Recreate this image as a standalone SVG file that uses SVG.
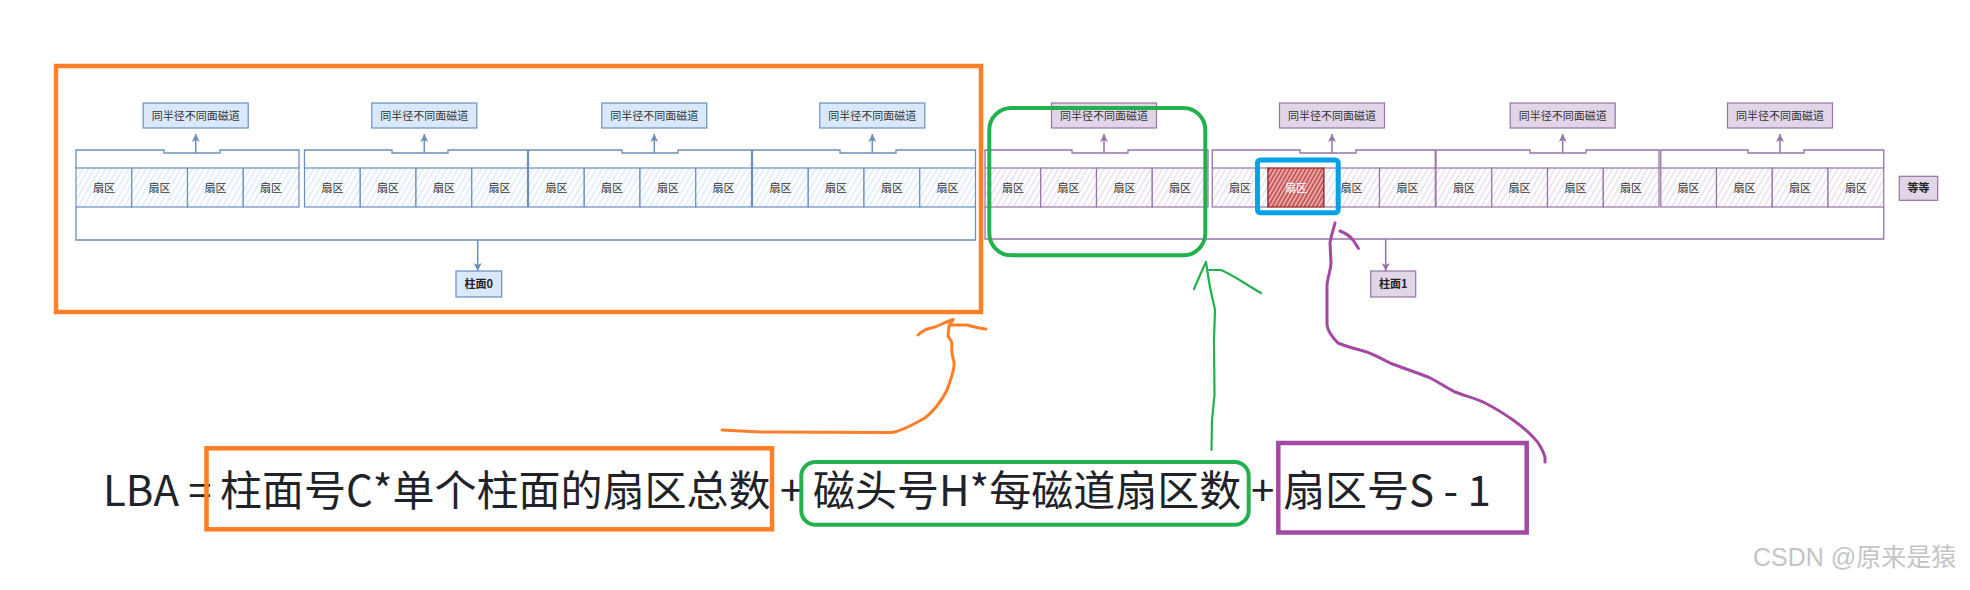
<svg xmlns="http://www.w3.org/2000/svg" width="1970" height="590" viewBox="0 0 1970 590">
<defs>
<pattern id="hatchB" patternUnits="userSpaceOnUse" width="5" height="5" patternTransform="rotate(30)"><rect width="5" height="5" fill="#ffffff"/><line x1="1" y1="0" x2="1" y2="5" stroke="#dae8fc" stroke-width="1.4"/></pattern>
<pattern id="hatchP" patternUnits="userSpaceOnUse" width="5" height="5" patternTransform="rotate(30)"><rect width="5" height="5" fill="#ffffff"/><line x1="1" y1="0" x2="1" y2="5" stroke="#e6dcec" stroke-width="1.4"/></pattern>
<pattern id="hatchR" patternUnits="userSpaceOnUse" width="3.5" height="3.5" patternTransform="rotate(30)"><rect width="3.5" height="3.5" fill="#e9a9a9"/><line x1="1" y1="0" x2="1" y2="3.5" stroke="#b53a3a" stroke-width="1.3"/></pattern>
<marker id="ab" viewBox="0 0 8 8" refX="8" refY="4" markerWidth="8" markerHeight="8" markerUnits="userSpaceOnUse" orient="auto"><path d="M0,0 L8,4 L0,8 L2,4 z" fill="#6c8ebf"/></marker>
<marker id="ap" viewBox="0 0 8 8" refX="8" refY="4" markerWidth="8" markerHeight="8" markerUnits="userSpaceOnUse" orient="auto"><path d="M0,0 L8,4 L0,8 L2,4 z" fill="#9673a6"/></marker>
</defs>
<style>
.sb{fill:url(#hatchB);stroke:#6c8ebf;stroke-width:1.2}
.sp{fill:url(#hatchP);stroke:#9673a6;stroke-width:1.2}
.brb{fill:none;stroke:#6c8ebf;stroke-width:1.3}
.brp{fill:none;stroke:#9673a6;stroke-width:1.3}
.lb{fill:#dae8fc;stroke:#6c8ebf;stroke-width:1.2}
.lp{fill:#e1d5e7;stroke:#9673a6;stroke-width:1.2}
.t{font-family:"Noto Sans CJK SC","Noto Sans",sans-serif;font-size:11px;fill:#333333;text-anchor:middle}
.tb{font-family:"Noto Sans CJK SC","Noto Sans",sans-serif;font-size:11px;font-weight:bold;fill:#222222;text-anchor:middle}
.cb{fill:none;stroke:#6c8ebf;stroke-width:1.5}
.cp{fill:none;stroke:#9673a6;stroke-width:1.5}
.f{font-family:"Noto Sans CJK SC","Noto Sans",sans-serif;font-size:42px;fill:#1f2329}
.or{fill:none;stroke:#ff7f27;stroke-width:4.5}
.gr{fill:none;stroke:#22b14c;stroke-width:4}
.pr{fill:none;stroke:#a349a4;stroke-width:4.5}
.hor{fill:none;stroke:#ff7f27;stroke-width:3;stroke-linecap:round;stroke-linejoin:round}
.hgr{fill:none;stroke:#22b14c;stroke-width:2.2;stroke-linecap:round;stroke-linejoin:round}
.hpr{fill:none;stroke:#a349a4;stroke-width:3;stroke-linecap:round;stroke-linejoin:round}
</style>
<rect width="1970" height="590" fill="#ffffff"/>

<!-- cylinder 0 (blue) -->
<g id="cyl0-bracket"><path class="brb" d="M76,207 V240 H975.5 V207"/></g>
<g id="track0-0">
<path class="brb" d="M76,168 V150 H164 V153 H220 V150 H299 V168"/>
<rect class="sb" x="76" y="168" width="55.75" height="39"/><rect class="sb" x="131.75" y="168" width="55.75" height="39"/><rect class="sb" x="187.5" y="168" width="55.75" height="39"/><rect class="sb" x="243.25" y="168" width="55.75" height="39"/>
<text class="t" x="103.9" y="191.5">扇区</text><text class="t" x="159.6" y="191.5">扇区</text><text class="t" x="215.4" y="191.5">扇区</text><text class="t" x="271.1" y="191.5">扇区</text>
</g>
<g id="track0-1">
<path class="brb" d="M304.5,168 V150 H392 V153 H448 V150 H527.5 V168"/>
<rect class="sb" x="304.5" y="168" width="55.75" height="39"/><rect class="sb" x="360.25" y="168" width="55.75" height="39"/><rect class="sb" x="416" y="168" width="55.75" height="39"/><rect class="sb" x="471.75" y="168" width="55.75" height="39"/>
<text class="t" x="332.4" y="191.5">扇区</text><text class="t" x="388.1" y="191.5">扇区</text><text class="t" x="443.9" y="191.5">扇区</text><text class="t" x="499.6" y="191.5">扇区</text>
</g>
<g id="track0-2">
<path class="brb" d="M528.5,168 V150 H622 V153 H678 V150 H751.5 V168"/>
<rect class="sb" x="528.5" y="168" width="55.75" height="39"/><rect class="sb" x="584.25" y="168" width="55.75" height="39"/><rect class="sb" x="640" y="168" width="55.75" height="39"/><rect class="sb" x="695.75" y="168" width="55.75" height="39"/>
<text class="t" x="556.4" y="191.5">扇区</text><text class="t" x="612.1" y="191.5">扇区</text><text class="t" x="667.9" y="191.5">扇区</text><text class="t" x="723.6" y="191.5">扇区</text>
</g>
<g id="track0-3">
<path class="brb" d="M752.5,168 V150 H840 V153 H896 V150 H975.5 V168"/>
<rect class="sb" x="752.5" y="168" width="55.75" height="39"/><rect class="sb" x="808.25" y="168" width="55.75" height="39"/><rect class="sb" x="864" y="168" width="55.75" height="39"/><rect class="sb" x="919.75" y="168" width="55.75" height="39"/>
<text class="t" x="780.4" y="191.5">扇区</text><text class="t" x="836.1" y="191.5">扇区</text><text class="t" x="891.9" y="191.5">扇区</text><text class="t" x="947.6" y="191.5">扇区</text>
</g>
<g id="label0-0"><rect class="lb" x="143.2" y="103" width="105" height="25"/><text class="t" x="195.7" y="119.5">同半径不同面磁道</text></g>
<g id="label0-1"><rect class="lb" x="371.8" y="103" width="105" height="25"/><text class="t" x="424.3" y="119.5">同半径不同面磁道</text></g>
<g id="label0-2"><rect class="lb" x="601.8" y="103" width="105" height="25"/><text class="t" x="654.3" y="119.5">同半径不同面磁道</text></g>
<g id="label0-3"><rect class="lb" x="819.8" y="103" width="105" height="25"/><text class="t" x="872.3" y="119.5">同半径不同面磁道</text></g>
<g id="cyl0"><rect class="lb" x="456" y="271" width="45.7" height="26"/><text class="tb" x="478.8" y="288">柱面0</text></g>

<!-- cylinder 1 (purple) -->
<g id="cyl1-bracket"><path class="brp" d="M985,207 V239 H1883.75 V207"/></g>
<g id="track1-0">
<path class="brp" d="M985,168 V150 H1072 V153 H1128 V150 H1208 V168"/>
<rect class="sp" x="985" y="168" width="55.75" height="39"/><rect class="sp" x="1040.75" y="168" width="55.75" height="39"/><rect class="sp" x="1096.5" y="168" width="55.75" height="39"/><rect class="sp" x="1152.25" y="168" width="55.75" height="39"/>
<text class="t" x="1012.9" y="191.5">扇区</text><text class="t" x="1068.6" y="191.5">扇区</text><text class="t" x="1124.4" y="191.5">扇区</text><text class="t" x="1180.1" y="191.5">扇区</text>
</g>
<g id="track1-1">
<path class="brp" d="M1212.25,168 V150 H1300 V153 H1356 V150 H1435.25 V168"/>
<rect class="sp" x="1212.25" y="168" width="55.75" height="39"/><rect class="sp" x="1323.75" y="168" width="55.75" height="39"/><rect class="sp" x="1379.5" y="168" width="55.75" height="39"/>
<text class="t" x="1240.1" y="191.5">扇区</text><text class="t" x="1351.6" y="191.5">扇区</text><text class="t" x="1407.4" y="191.5">扇区</text>
</g>
<g id="sector-target">
<rect x="1268" y="168" width="55.75" height="39" fill="url(#hatchR)" stroke="#9c2b2b" stroke-width="1.3"/>
<text class="t" x="1295.9" y="191.5" style="fill:#ffffff">扇区</text>
</g>
<g id="track1-2">
<path class="brp" d="M1436,168 V150 H1530 V153 H1586 V150 H1659 V168"/>
<rect class="sp" x="1436" y="168" width="55.75" height="39"/><rect class="sp" x="1491.75" y="168" width="55.75" height="39"/><rect class="sp" x="1547.5" y="168" width="55.75" height="39"/><rect class="sp" x="1603.25" y="168" width="55.75" height="39"/>
<text class="t" x="1463.9" y="191.5">扇区</text><text class="t" x="1519.6" y="191.5">扇区</text><text class="t" x="1575.4" y="191.5">扇区</text><text class="t" x="1631.1" y="191.5">扇区</text>
</g>
<g id="track1-3">
<path class="brp" d="M1660.75,168 V150 H1748 V153 H1804 V150 H1883.75 V168"/>
<rect class="sp" x="1660.75" y="168" width="55.75" height="39"/><rect class="sp" x="1716.5" y="168" width="55.75" height="39"/><rect class="sp" x="1772.25" y="168" width="55.75" height="39"/><rect class="sp" x="1828" y="168" width="55.75" height="39"/>
<text class="t" x="1688.6" y="191.5">扇区</text><text class="t" x="1744.4" y="191.5">扇区</text><text class="t" x="1800.1" y="191.5">扇区</text><text class="t" x="1855.9" y="191.5">扇区</text>
</g>
<g id="label1-0"><rect class="lp" x="1051.5" y="103" width="105" height="25"/><text class="t" x="1104" y="119.5">同半径不同面磁道</text></g>
<g id="label1-1"><rect class="lp" x="1279.5" y="103" width="105" height="25"/><text class="t" x="1332" y="119.5">同半径不同面磁道</text></g>
<g id="label1-2"><rect class="lp" x="1510.2" y="103" width="105" height="25"/><text class="t" x="1562.7" y="119.5">同半径不同面磁道</text></g>
<g id="label1-3"><rect class="lp" x="1727.5" y="103" width="105" height="25"/><text class="t" x="1780" y="119.5">同半径不同面磁道</text></g>
<g id="cyl1"><rect class="lp" x="1370.7" y="271" width="45" height="26"/><text class="tb" x="1393.2" y="288">柱面1</text></g>
<g id="etc"><rect class="lp" x="1899.3" y="176.3" width="38.4" height="24"/><text class="tb" x="1918.5" y="192.3">等等</text></g>

<!-- connectors -->
<g id="connectors">
<path class="cb" d="M195.7,153 V134" marker-end="url(#ab)"/>
<path class="cb" d="M424.3,153 V134" marker-end="url(#ab)"/>
<path class="cb" d="M654.3,153 V134" marker-end="url(#ab)"/>
<path class="cb" d="M872.3,153 V134" marker-end="url(#ab)"/>
<path class="cb" d="M477.7,240 V271" marker-end="url(#ab)"/>
<path class="cp" d="M1104,153 V134" marker-end="url(#ap)"/>
<path class="cp" d="M1332,153 V134" marker-end="url(#ap)"/>
<path class="cp" d="M1562.7,153 V134" marker-end="url(#ap)"/>
<path class="cp" d="M1780,153 V134" marker-end="url(#ap)"/>
<path class="cp" d="M1385.7,239 V271" marker-end="url(#ap)"/>
<!-- hand-drawn annotation arrows -->
<path class="hor" d="M722,430 L760,432 L892,432.5 C905,430 915,423 925,418 C935,410 942,400 947,390 C951,378 955,370 954,362 C952,355 951,350 952,345 C952,340 949,338 948,336 L949,326 L953,319.5"/>
<path class="hor" d="M918,335 C922,331 926,329 931,328 C936,327 940,325 944,323 L953,319.5 M950,325 L967,325 C975,327 980,329 986,329"/>
<path class="hgr" d="M1211.5,450 L1212,420 L1214.5,395 L1214,340 L1215,310 C1213,300 1210,290 1208,275 L1206,262"/>
<path class="hgr" d="M1194,289 C1198,280 1202,270 1206,262 M1209,270 L1221,270 C1235,276 1248,286 1261,293"/>
<path class="hpr" d="M1545,462 L1545,457 C1542,448 1538,442 1534,438 C1527,430 1520,425 1513,420 C1503,413 1495,408 1485,403 C1475,398 1465,396 1455,392 C1445,387 1437,381 1428,377 C1415,372 1400,367 1390,363 C1378,357 1370,352 1360,350 C1352,348 1345,346 1338,343 C1333,338 1328,332 1327,325 L1327,285 C1328,275 1331,270 1331,262 L1330,243 C1331,235 1334,228 1335,223"/>
<path class="hpr" d="M1340,231 C1345,233 1350,236 1353,240 C1355,243 1357,246 1358.5,248.5"/>
</g>

<!-- highlight marks -->
<g id="mark-cylinder"><rect class="or" x="56" y="66" width="925" height="246"/></g>
<g id="mark-track"><rect class="gr" x="989.3" y="108" width="216" height="147.3" rx="22"/></g>
<g id="mark-sector"><rect x="1257.5" y="160" width="80.7" height="52.8" rx="3" fill="none" stroke="#00a2e8" stroke-width="5"/></g>

<!-- formula -->
<g id="formula">
<text class="f" x="103" y="506">LBA =</text>
<text class="f" x="220" y="506">柱面号C*单个柱面的扇区总数</text>
<text class="f" x="780" y="506">+</text>
<text class="f" x="813" y="506">磁头号H*每磁道扇区数</text>
<text class="f" x="1251" y="506">+</text>
<text class="f" x="1283" y="506">扇区号S - 1</text>
<rect class="or" x="206.5" y="448.3" width="565.5" height="81"/>
<rect class="gr" x="801.3" y="462" width="447.4" height="62.7" rx="14"/>
<rect class="pr" x="1278.3" y="443" width="248.4" height="89.5"/>
</g>

<g id="watermark"><text x="1753" y="566" style="font-family:'Liberation Sans','Noto Sans CJK SC',sans-serif;font-size:25px;fill:#c4c4c4">CSDN @原来是猿</text></g>
</svg>
